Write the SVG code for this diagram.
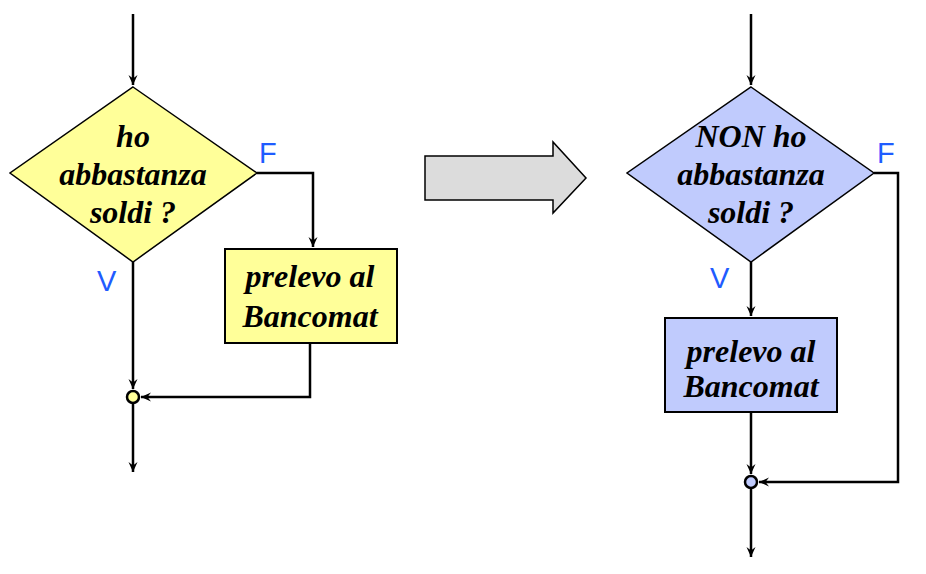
<svg xmlns="http://www.w3.org/2000/svg" width="926" height="574" viewBox="0 0 926 574">
  <defs>
    <marker id="arr" viewBox="-10 -5 11 10" markerWidth="11" markerHeight="10" refX="0" refY="0" orient="auto" markerUnits="userSpaceOnUse">
      <path d="M0,0 L-10,-4.5 L-6.5,0 L-10,4.5 Z" fill="#000"/>
    </marker>
  </defs>
  <style>
    .lbl { font-family: "Liberation Serif", "Times New Roman", serif; font-weight: bold; font-style: italic; font-size: 32px; fill: #000; text-anchor: middle; }
    .tf { font-family: "Liberation Sans", Arial, sans-serif; font-size: 29px; fill: #1f5cff; }
    .dia { stroke: #000; stroke-width: 1.5; }
    .box { stroke: #000; stroke-width: 2; }
    .dot { stroke: #000; stroke-width: 2.5; }
    .yel { fill: #ffff99; }
    .blu { fill: #c0cbfd; }
    .ln { fill: none; stroke: #000; stroke-width: 2.5; }
    .ar { marker-end: url(#arr); }
  </style>
  <rect width="926" height="574" fill="#fff"/>

  <g id="connectors">
    <!-- left flow -->
    <path class="ln ar" d="M133,14 V85"/>
    <path class="ln ar" d="M257,173 H313 V247"/>
    <path class="ln ar" d="M133,262 V389"/>
    <path class="ln ar" d="M310,343 V397 H141"/>
    <path class="ln ar" d="M133,404 V472"/>
    <!-- right flow -->
    <path class="ln ar" d="M751,14 V85"/>
    <path class="ln ar" d="M751,262 V316"/>
    <path class="ln ar" d="M874,173 H898 V482 H759"/>
    <path class="ln ar" d="M751,412 V474"/>
    <path class="ln ar" d="M751,489 V557"/>
  </g>

  <g id="dec1">
    <polygon class="dia yel" points="133,87 257,173 133,262 10,173"/>
    <text class="lbl" x="133" y="147">ho</text>
    <text class="lbl" x="133" y="185">abbastanza</text>
    <text class="lbl" x="133" y="223">soldi ?</text>
  </g>
  <text class="tf" x="259" y="163">F</text>
  <text class="tf" x="97" y="291">V</text>

  <g id="act1">
    <rect class="box yel" x="225" y="249" width="172" height="94"/>
    <text class="lbl" x="310" y="287">prelevo al</text>
    <text class="lbl" x="310" y="327">Bancomat</text>
  </g>

  <g id="join1">
    <circle class="dot yel" cx="133" cy="397" r="6"/>
  </g>

  <g id="transform">
    <polygon points="425,156 553,156 553,142 586,178 553,213 553,200 425,200" fill="#dcdcdc" stroke="#000" stroke-width="1.5"/>
  </g>

  <g id="dec2">
    <polygon class="dia blu" points="751,87 874,173 751,262 627,173"/>
    <text class="lbl" x="751" y="147">NON ho</text>
    <text class="lbl" x="751" y="185">abbastanza</text>
    <text class="lbl" x="751" y="223">soldi ?</text>
  </g>
  <text class="tf" x="877" y="163">F</text>
  <text class="tf" x="710" y="288">V</text>

  <g id="act2">
    <rect class="box blu" x="665" y="318" width="172" height="94"/>
    <text class="lbl" x="751" y="362">prelevo al</text>
    <text class="lbl" x="751" y="397">Bancomat</text>
  </g>

  <g id="join2">
    <circle class="dot blu" cx="751" cy="482" r="6"/>
  </g>
</svg>
